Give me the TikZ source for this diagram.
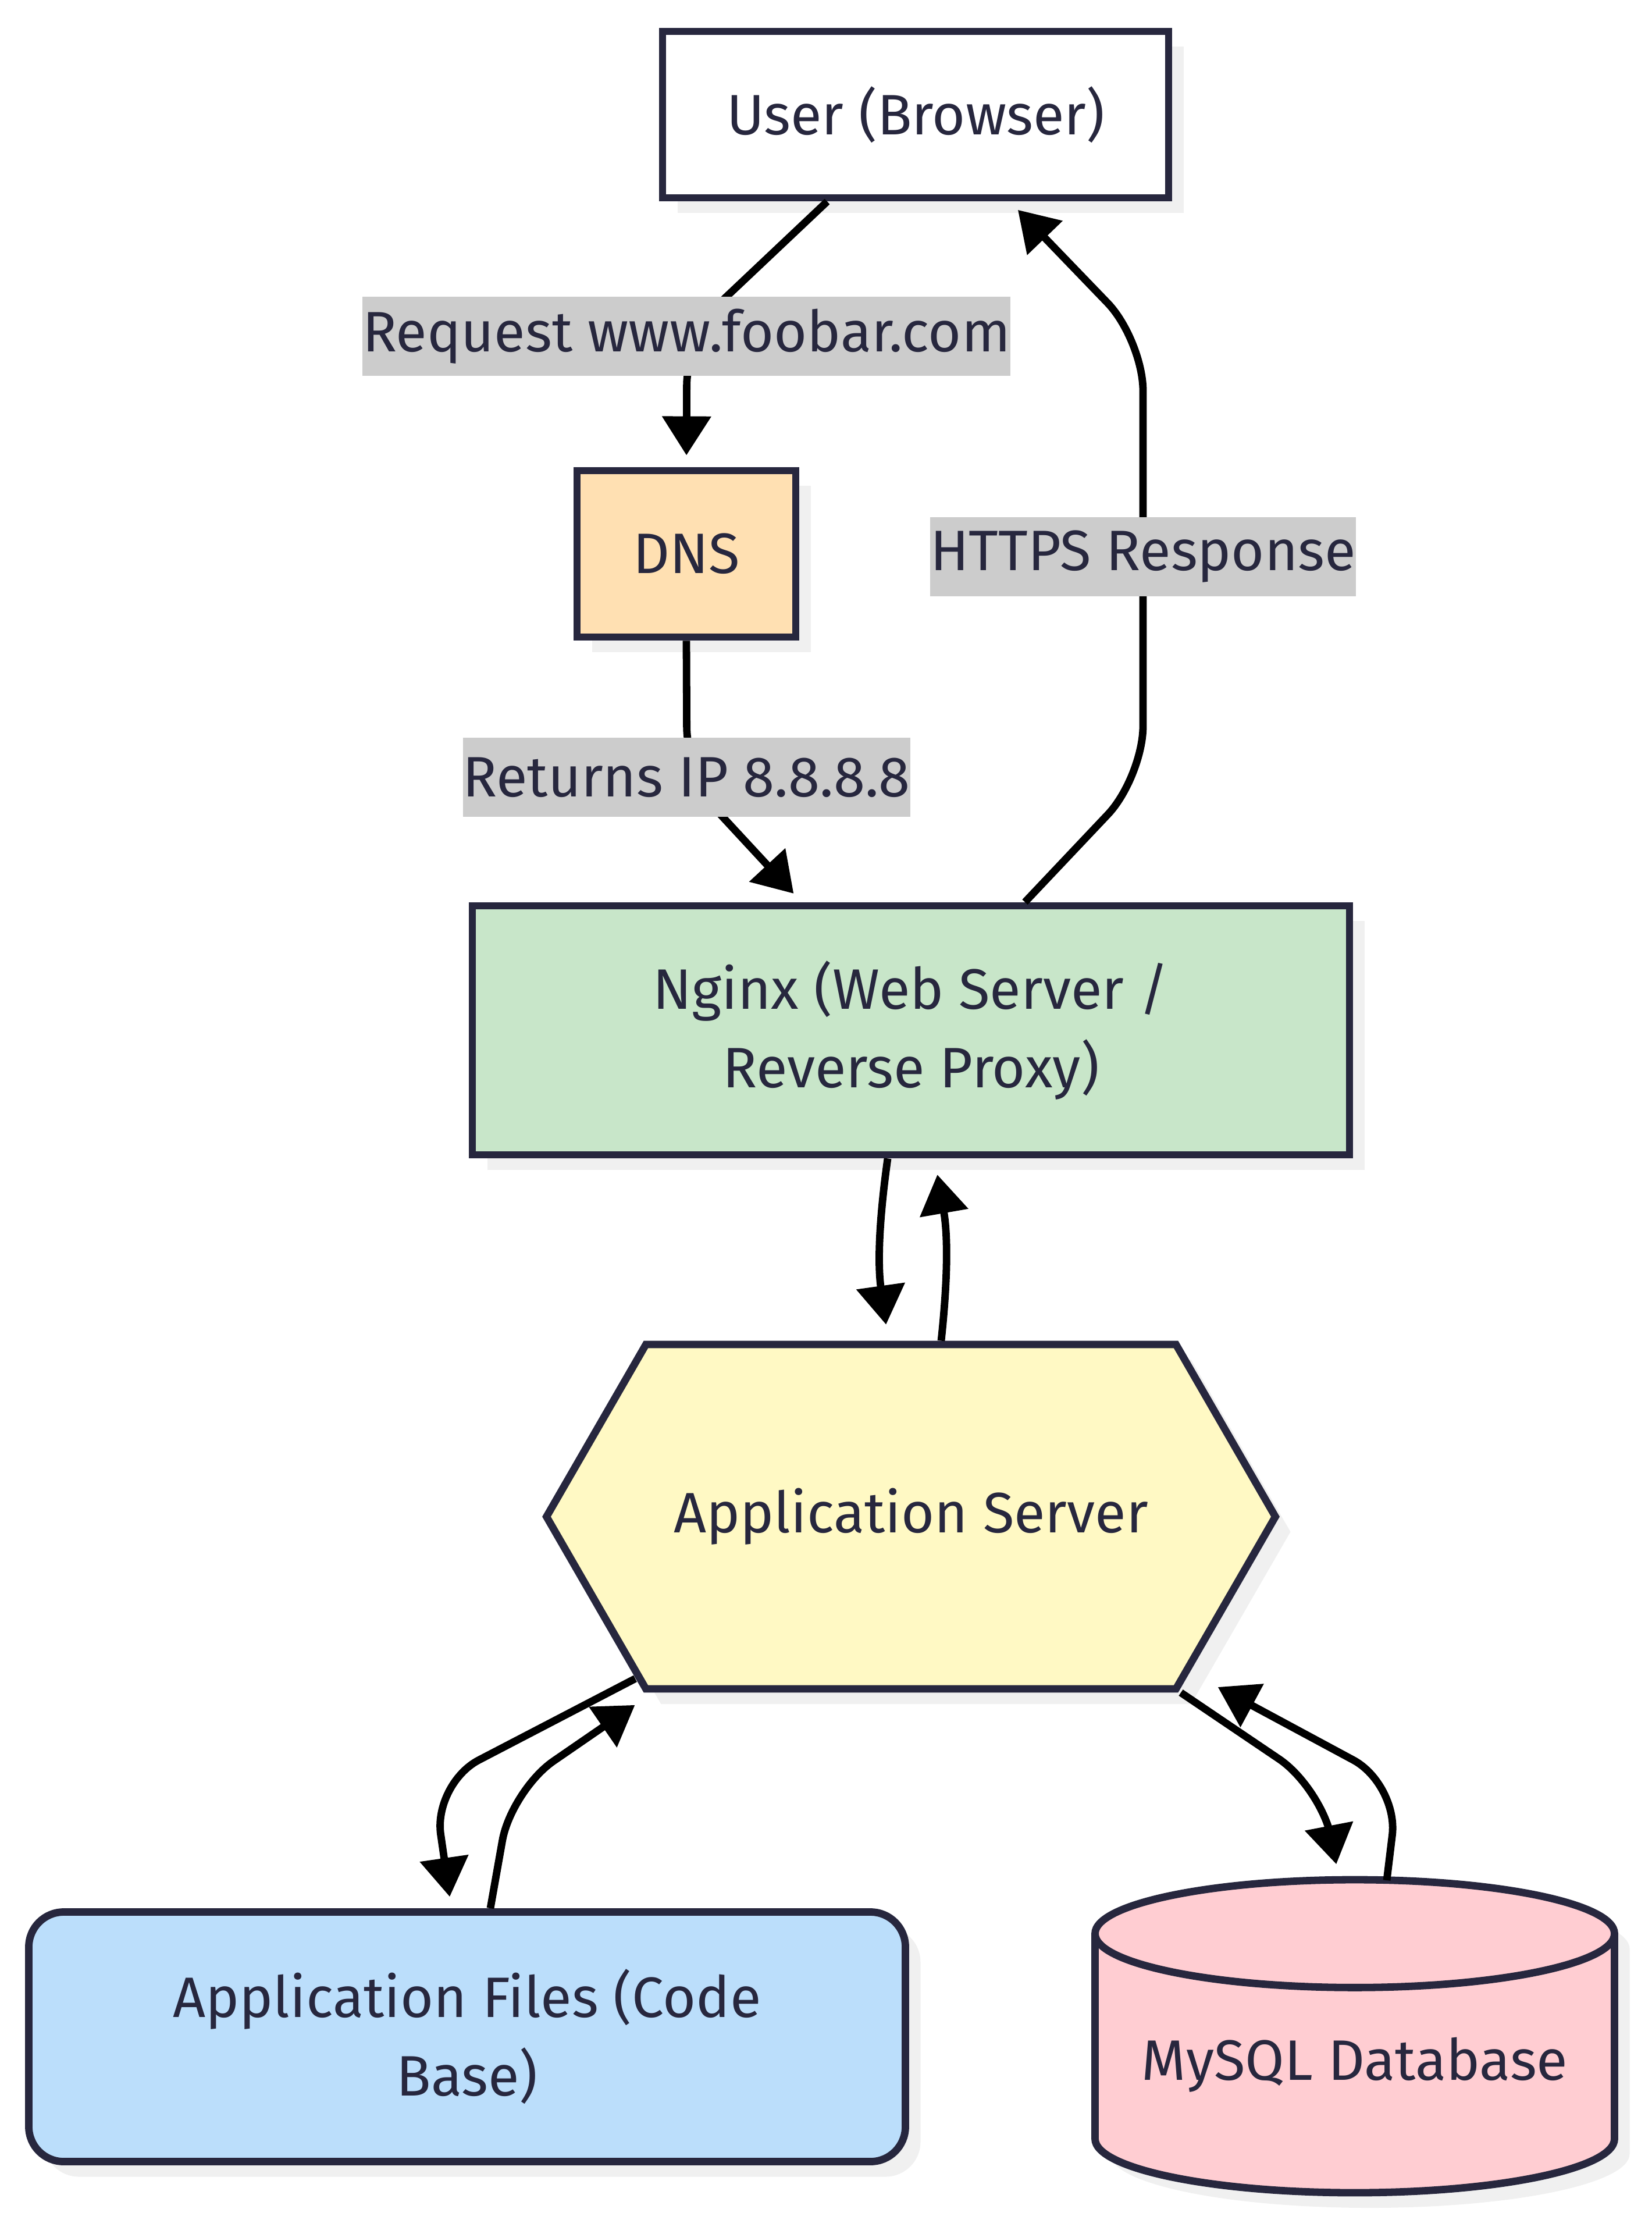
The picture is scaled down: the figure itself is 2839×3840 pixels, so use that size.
\documentclass[tikz,border=0pt]{standalone}
\usepackage{fontspec}
\setmainfont{Fira Sans}
\usetikzlibrary{arrows.meta,
                positioning,
                shadows,
                shapes.geometric,
                shapes.symbols}
\definecolor{ink}{RGB}{39,39,62}
\definecolor{shade}{HTML}{F0F0F0}
\definecolor{lblgray}{HTML}{CCCCCC}
\definecolor{cDNS}{HTML}{FFE0B2}
\definecolor{cWEB}{HTML}{C8E6C9}
\definecolor{cAPP}{HTML}{FFF9C4}
\definecolor{cFIL}{HTML}{BBDEFB}
\definecolor{cDB}{HTML}{FFCDD2}

\begin{document}
\begin{tikzpicture}[x=0.25pt, y=-0.25pt,
  font=\fontsize{24.5}{33.75}\selectfont,
   SHD/.style = {drop shadow={shadow xshift=6.5pt, shadow yshift=-6.5pt,
                              fill=shade, opacity=1}},
   BOX/.style = {draw=ink, line width=3.2pt, text=ink, SHD,
                 align=center, inner sep=0pt},
   LBL/.style = {fill=lblgray, text=ink, inner sep=0pt, minimum height=34pt},
   LNK/.style = {line width=3.2pt, rounded corners=22pt, shorten >=5pt,
                 -{Triangle[length=16.75pt, width=20.4pt]}}
                    ]
\useasboundingbox (0,0) rectangle (2839,3840);
% nodes
\node[BOX, fill=white, minimum width=217.5pt, minimum height=71.5pt]
      (user) at (1574,197) {User (Browser)};
\node[BOX, fill=cDNS, minimum width=94pt, minimum height=71.5pt]
      (dns) at (1180,952) {DNS};
\node[BOX, fill=cWEB, minimum width=377pt, minimum height=107pt]
      (nginx) at (1566,1771) {Nginx (Web Server /\\ Reverse Proxy)};
\node[BOX, fill=cAPP, signal, signal to=east and west, signal pointer angle=120,
      minimum width=313.25pt, minimum height=148pt]
      (app) at (1566,2607) {Application Server};
\node[BOX, fill=cFIL, rounded corners=15pt, minimum width=376.75pt, minimum height=107.25pt]
      (files) at (803,3501) {Application Files (Code\\ Base)};
\node[BOX, fill=cDB, cylinder, shape border rotate=90, aspect=0.253,
      minimum width=223.25pt, minimum height=134.5pt, anchor=shape center]
      (db) at (2329,3500) {MySQL Database};
% bend points
\coordinate (c1)  at (1181,574);
\coordinate (c2)  at (1181,1338);
\coordinate (c3a) at (1965,1336);
\coordinate (c3b) at (1965,584);
\coordinate (c6)  at (745,3066);
\coordinate (c7)  at (879,3077);
\coordinate (c8)  at (2272,3073);
\coordinate (c9)  at (2404,3067);
% links
\draw[LNK] ([xshift=-38pt]user.south) -- (c1) -- (dns.north);
\draw[LNK] (dns.south) -- (c2) -- ([xshift=-47pt]nginx.north);
\draw[LNK] ([xshift=49pt]nginx.north) -- (c3a) -- (c3b) -- ([xshift=40.5pt]user.south);
\draw[LNK] ([xshift=-10pt]nginx.south) to[bend right=8] ([xshift=-10pt,yshift=2pt]app.north);
\draw[LNK] ([xshift=13pt]app.north) to[bend right=8] ([xshift=10.5pt,yshift=-2pt]nginx.south);
\draw[LNK] ([xshift=-118.5pt,yshift=6pt]app.south) -- (c6) -- ([xshift=-6.75pt]files.north);
\draw[LNK] ([xshift=10pt]files.north) -- (c7) -- ([xshift=-114.5pt,yshift=-2.5pt]app.south);
\draw[LNK] ([xshift=116pt]app.south) -- (c8) -- ([xshift=-7pt,yshift=69pt]db.shape center);
\draw[LNK] ([xshift=13.75pt,yshift=67pt]db.shape center) -- (c9) -- ([xshift=127.5pt,yshift=4.75pt]app.south);
% labels
\node[LBL] (req)  at (1180,578)  {Request www.foobar.com};
\node[LBL] (ret)  at (1180,1336) {Returns IP 8.8.8.8};
\node[LBL] (resp) at (1965,957)  {HTTPS Response};
\end{tikzpicture}
\end{document}
